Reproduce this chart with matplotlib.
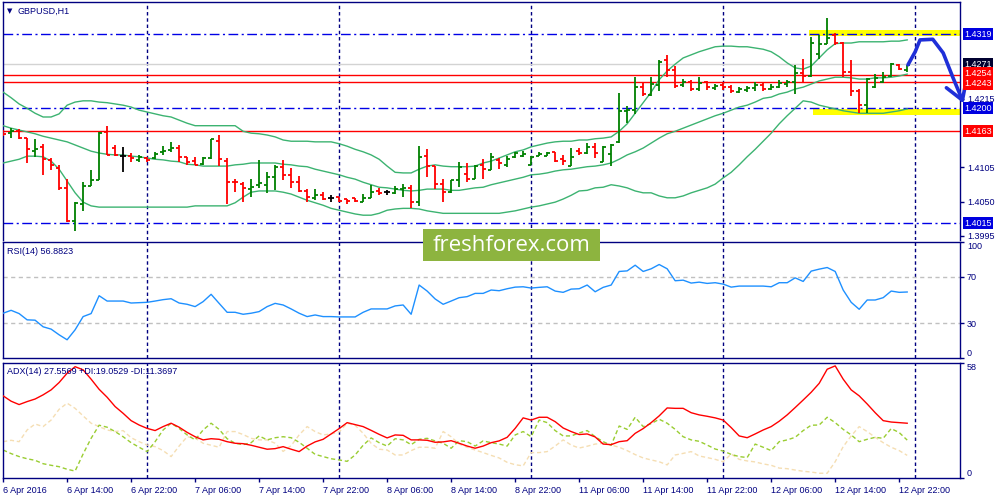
import numpy as np
import matplotlib.pyplot as plt
from matplotlib.patches import Rectangle

plt.rcParams['font.family'] = ['Liberation Sans', 'DejaVu Sans']

# GBPUSD H1, 6 Apr 06:00 .. 12 Apr 23:00 (weekend skipped)
opens = [1.4163, 1.4160, 1.4163, 1.4153, 1.4132, 1.4137, 1.4117, 1.4104, 1.4071, 1.4019,
         1.4046, 1.4075, 1.4085, 1.4162, 1.4136, 1.4124, 1.4124, 1.4117, 1.4120, 1.4120,
         1.4129, 1.4133, 1.4136, 1.4121, 1.4115, 1.4110, 1.4120, 1.4148, 1.4116, 1.4082,
         1.4078, 1.4070, 1.4076, 1.4077, 1.4089, 1.4105, 1.4093, 1.4082, 1.4067, 1.4056,
         1.4060, 1.4055, 1.4058, 1.4054, 1.4055, 1.4049, 1.4056, 1.4067, 1.4065, 1.4064,
         1.4070, 1.4071, 1.4050, 1.4123, 1.4107, 1.4078, 1.4066, 1.4084, 1.4094, 1.4086,
         1.4109, 1.4101, 1.4117, 1.4108, 1.4121, 1.4124, 1.4109, 1.4124, 1.4124, 1.4129,
         1.4118, 1.4107, 1.4132, 1.4128, 1.4137, 1.4114, 1.4127, 1.4145, 1.4195, 1.4198,
         1.4234, 1.4221, 1.4238, 1.4278, 1.4261, 1.4238, 1.4243, 1.4231, 1.4242, 1.4232,
         1.4238, 1.4234, 1.4227, 1.4229, 1.4232, 1.4238, 1.4231, 1.4234, 1.4239, 1.4243,
         1.4257, 1.4252, 1.4288, 1.4304, 1.4318, 1.4305, 1.4259, 1.4228, 1.4205, 1.4235,
         1.4243, 1.4252, 1.4270, 1.4261]
highs = [1.4165, 1.4168, 1.4166, 1.4153, 1.4150, 1.4143, 1.4120, 1.4109, 1.4086, 1.4049,
         1.4081, 1.4101, 1.4162, 1.4172, 1.4141, 1.4137, 1.4128, 1.4125, 1.4122, 1.4130,
         1.4139, 1.4145, 1.4141, 1.4122, 1.4121, 1.4121, 1.4151, 1.4157, 1.4120, 1.4086,
         1.4081, 1.4086, 1.4117, 1.4097, 1.4109, 1.4117, 1.4104, 1.4091, 1.4070, 1.4070,
         1.4065, 1.4060, 1.4058, 1.4054, 1.4056, 1.4062, 1.4076, 1.4071, 1.4069, 1.4075,
         1.4078, 1.4076, 1.4139, 1.4135, 1.4107, 1.4086, 1.4085, 1.4113, 1.4112, 1.4109,
         1.4118, 1.4128, 1.4120, 1.4124, 1.4130, 1.4132, 1.4123, 1.4129, 1.4130, 1.4129,
         1.4125, 1.4136, 1.4136, 1.4144, 1.4144, 1.4139, 1.4143, 1.4225, 1.4203, 1.4250,
         1.4243, 1.4250, 1.4277, 1.4286, 1.4268, 1.4247, 1.4246, 1.4251, 1.4244, 1.4239,
         1.4242, 1.4237, 1.4234, 1.4236, 1.4243, 1.4240, 1.4239, 1.4246, 1.4246, 1.4270,
         1.4279, 1.4314, 1.4318, 1.4346, 1.4321, 1.4306, 1.4277, 1.4231, 1.4248, 1.4255,
         1.4259, 1.4273, 1.4271, 1.4270]
lows = [1.4156, 1.4152, 1.4151, 1.4112, 1.4121, 1.4092, 1.4100, 1.4068, 1.4017, 1.4003,
        1.4034, 1.4075, 1.4084, 1.4125, 1.4124, 1.4098, 1.4114, 1.4114, 1.4114, 1.4119,
        1.4125, 1.4129, 1.4114, 1.4109, 1.4108, 1.4109, 1.4119, 1.4107, 1.4046, 1.4065,
        1.4050, 1.4058, 1.4071, 1.4064, 1.4068, 1.4084, 1.4071, 1.4066, 1.4050, 1.4053,
        1.4052, 1.4049, 1.4050, 1.4046, 1.4050, 1.4049, 1.4055, 1.4060, 1.4061, 1.4062,
        1.4058, 1.4039, 1.4042, 1.4089, 1.4070, 1.4050, 1.4064, 1.4073, 1.4081, 1.4086,
        1.4087, 1.4100, 1.4102, 1.4105, 1.4120, 1.4121, 1.4109, 1.4123, 1.4123, 1.4114,
        1.4108, 1.4107, 1.4125, 1.4127, 1.4120, 1.4113, 1.4107, 1.4144, 1.4176, 1.4191,
        1.4219, 1.4219, 1.4228, 1.4251, 1.4232, 1.4234, 1.4228, 1.4228, 1.4230, 1.4230,
        1.4230, 1.4224, 1.4224, 1.4227, 1.4228, 1.4228, 1.4229, 1.4232, 1.4234, 1.4223,
        1.4240, 1.4250, 1.4279, 1.4304, 1.4302, 1.4250, 1.4219, 1.4192, 1.4192, 1.4232,
        1.4241, 1.4250, 1.4261, 1.4259]
closes = [1.4158, 1.4164, 1.4153, 1.4134, 1.4135, 1.4118, 1.4108, 1.4071, 1.4019, 1.4048,
          1.4075, 1.4085, 1.4161, 1.4125, 1.4125, 1.4124, 1.4120, 1.4121, 1.4117, 1.4127,
          1.4132, 1.4136, 1.4121, 1.4114, 1.4109, 1.4120, 1.4150, 1.4119, 1.4082, 1.4081,
          1.4071, 1.4073, 1.4079, 1.4089, 1.4105, 1.4093, 1.4082, 1.4067, 1.4058, 1.4060,
          1.4054, 1.4055, 1.4051, 1.4051, 1.4051, 1.4056, 1.4066, 1.4064, 1.4065, 1.4070,
          1.4071, 1.4050, 1.4121, 1.4107, 1.4078, 1.4066, 1.4084, 1.4105, 1.4087, 1.4107,
          1.4102, 1.4121, 1.4112, 1.4118, 1.4128, 1.4127, 1.4121, 1.4127, 1.4128, 1.4116,
          1.4116, 1.4121, 1.4128, 1.4137, 1.4128, 1.4137, 1.4141, 1.4195, 1.4198, 1.4234,
          1.4223, 1.4239, 1.4275, 1.4261, 1.4236, 1.4242, 1.4231, 1.4241, 1.4234, 1.4236,
          1.4234, 1.4228, 1.4231, 1.4232, 1.4238, 1.4231, 1.4234, 1.4240, 1.4243, 1.4257,
          1.4252, 1.4305, 1.4304, 1.4313, 1.4305, 1.4259, 1.4228, 1.4205, 1.4247, 1.4248,
          1.4251, 1.4272, 1.4264, 1.4270]

bb_upper = [1.4226, 1.4217, 1.4207, 1.4200, 1.4192, 1.4186, 1.4186, 1.4191, 1.4205, 1.4210,
            1.4212, 1.4212, 1.4210, 1.4209, 1.4207, 1.4205, 1.4202, 1.4197, 1.4194, 1.4191,
            1.4188, 1.4186, 1.4181, 1.4176, 1.4172, 1.4172, 1.4172, 1.4172, 1.4172, 1.4172,
            1.4163, 1.4160, 1.4159, 1.4157, 1.4154, 1.4149, 1.4147, 1.4147, 1.4147, 1.4146,
            1.4146, 1.4146, 1.4143, 1.4139, 1.4134, 1.4130, 1.4125, 1.4118, 1.4107, 1.4097,
            1.4096, 1.4096, 1.4102, 1.4107, 1.4109, 1.4107, 1.4106, 1.4106, 1.4106, 1.4107,
            1.4112, 1.4115, 1.4120, 1.4125, 1.4130, 1.4133, 1.4138, 1.4141, 1.4144, 1.4146,
            1.4147, 1.4147, 1.4149, 1.4149, 1.4151, 1.4152, 1.4154, 1.4163, 1.4175, 1.4192,
            1.4209, 1.4226, 1.4246, 1.4260, 1.4271, 1.4281, 1.4286, 1.4291, 1.4295, 1.4299,
            1.4300, 1.4300, 1.4299, 1.4299, 1.4297, 1.4295, 1.4291, 1.4283, 1.4273, 1.4265,
            1.4263, 1.4268, 1.4281, 1.4294, 1.4304, 1.4305, 1.4305, 1.4307, 1.4307, 1.4307,
            1.4307, 1.4308, 1.4308, 1.4310]
bb_mid = [1.4172, 1.4168, 1.4165, 1.4162, 1.4159, 1.4155, 1.4152, 1.4149, 1.4146, 1.4141,
          1.4136, 1.4131, 1.4128, 1.4126, 1.4125, 1.4125, 1.4123, 1.4122, 1.4120, 1.4118,
          1.4117, 1.4115, 1.4114, 1.4110, 1.4109, 1.4107, 1.4107, 1.4107, 1.4107, 1.4109,
          1.4110, 1.4112, 1.4112, 1.4112, 1.4112, 1.4110, 1.4109, 1.4107, 1.4106, 1.4102,
          1.4099, 1.4096, 1.4093, 1.4089, 1.4086, 1.4081, 1.4077, 1.4073, 1.4072, 1.4070,
          1.4068, 1.4067, 1.4068, 1.4070, 1.4070, 1.4070, 1.4068, 1.4068, 1.4070, 1.4072,
          1.4073, 1.4077, 1.4080, 1.4083, 1.4086, 1.4089, 1.4093, 1.4094, 1.4096, 1.4099,
          1.4101, 1.4102, 1.4104, 1.4106, 1.4107, 1.4109, 1.4112, 1.4118, 1.4125, 1.4130,
          1.4136, 1.4144, 1.4152, 1.4159, 1.4163, 1.4168, 1.4173, 1.4178, 1.4183, 1.4188,
          1.4192, 1.4197, 1.4202, 1.4205, 1.4210, 1.4216, 1.4218, 1.4223, 1.4226, 1.4231,
          1.4234, 1.4239, 1.4244, 1.4247, 1.4250, 1.4250, 1.4249, 1.4247, 1.4247, 1.4249,
          1.4249, 1.4250, 1.4252, 1.4255]
bb_lower = [1.4112, 1.4115, 1.4118, 1.4123, 1.4123, 1.4122, 1.4115, 1.4102, 1.4083, 1.4064,
            1.4049, 1.4043, 1.4041, 1.4041, 1.4041, 1.4041, 1.4041, 1.4041, 1.4041, 1.4041,
            1.4041, 1.4041, 1.4041, 1.4041, 1.4043, 1.4043, 1.4043, 1.4043, 1.4043, 1.4048,
            1.4057, 1.4065, 1.4067, 1.4067, 1.4067, 1.4065, 1.4062, 1.4057, 1.4052, 1.4048,
            1.4044, 1.4039, 1.4036, 1.4033, 1.4030, 1.4028, 1.4028, 1.4031, 1.4036, 1.4038,
            1.4039, 1.4039, 1.4038, 1.4035, 1.4033, 1.4031, 1.4031, 1.4031, 1.4031, 1.4031,
            1.4031, 1.4031, 1.4031, 1.4033, 1.4035, 1.4038, 1.4041, 1.4043, 1.4046, 1.4049,
            1.4054, 1.4060, 1.4067, 1.4068, 1.4072, 1.4073, 1.4077, 1.4075, 1.4072, 1.4067,
            1.4064, 1.4064, 1.4059, 1.4056, 1.4056, 1.4059, 1.4064, 1.4068, 1.4072, 1.4078,
            1.4088, 1.4097, 1.4109, 1.4122, 1.4134, 1.4147, 1.4160, 1.4175, 1.4188, 1.4200,
            1.4212, 1.4210, 1.4205, 1.4202, 1.4199, 1.4196, 1.4194, 1.4192, 1.4192, 1.4192,
            1.4192, 1.4194, 1.4196, 1.4199]

rsi = [38.6, 41.1, 38.3, 32.9, 32.6, 26.9, 24.9, 20.0, 15.7, 24.3,
       35.7, 38.3, 53.7, 49.1, 49.1, 49.1, 47.4, 47.7, 48.0, 49.1,
       50.3, 51.1, 47.4, 46.3, 44.3, 48.6, 54.9, 47.1, 39.4, 39.4,
       37.7, 38.6, 40.0, 44.3, 47.1, 45.7, 42.3, 38.6, 35.7, 37.1,
       35.7, 35.7, 35.4, 35.4, 35.4, 39.4, 42.3, 42.3, 42.3, 44.9,
       45.7, 37.7, 62.9, 57.7, 50.9, 46.3, 49.1, 52.0, 52.9, 55.7,
       55.7, 58.6, 58.0, 59.7, 61.1, 61.4, 60.3, 60.9, 61.4, 57.7,
       56.6, 59.4, 59.7, 62.9, 57.1, 60.9, 62.9, 74.6, 75.1, 80.0,
       74.6, 76.9, 80.6, 76.9, 66.6, 67.1, 64.6, 65.4, 64.3, 64.9,
       63.7, 61.1, 62.0, 62.0, 62.0, 62.0, 61.4, 64.9, 64.9, 69.1,
       66.0, 74.9, 76.6, 78.0, 74.6, 58.6, 48.0, 42.0, 50.0, 50.0,
       52.0, 57.7, 56.6, 56.9]

adx = [41.4, 38.7, 37.0, 38.5, 39.8, 41.9, 44.4, 48.1, 52.8, 56.1,
       54.5, 49.8, 44.7, 40.7, 36.0, 32.6, 28.9, 26.7, 25.0, 23.9,
       25.9, 27.6, 25.6, 23.0, 20.8, 19.2, 19.8, 19.5, 18.3, 17.5,
       17.3, 16.5, 15.5, 14.5, 14.8, 15.8, 14.5, 13.3, 16.1, 18.2,
       19.5, 22.2, 24.9, 27.9, 26.9, 25.9, 24.0, 22.0, 20.2, 21.7,
       21.5, 19.2, 19.2, 19.0, 18.0, 18.2, 18.8, 17.5, 16.1, 15.0,
       16.1, 17.8, 18.7, 20.5, 25.0, 30.3, 29.2, 30.6, 30.6, 28.4,
       25.2, 23.4, 21.9, 22.2, 20.7, 17.1, 16.8, 18.3, 18.8, 22.5,
       24.9, 27.9, 31.3, 35.3, 35.1, 35.1, 32.9, 31.8, 31.1, 30.3,
       29.2, 25.4, 21.2, 20.3, 22.2, 24.2, 25.9, 28.6, 31.8, 35.5,
       39.3, 43.2, 47.7, 54.8, 56.5, 49.8, 44.4, 41.4, 37.3, 32.9,
       28.9, 28.2, 27.9, 27.6]
plus_di = [14.1, 12.3, 10.8, 9.7, 8.9, 7.2, 6.4, 5.7, 4.4, 3.5,
           12.1, 20.0, 26.6, 25.6, 23.4, 20.8, 17.8, 15.5, 13.3, 18.3,
           24.2, 27.6, 25.0, 21.7, 19.2, 24.2, 27.6, 24.5, 19.8, 17.5,
           16.8, 17.8, 21.2, 19.2, 20.3, 20.8, 20.3, 18.0, 15.0, 11.9,
           10.8, 9.7, 9.1, 8.4, 11.6, 16.5, 20.2, 17.8, 16.1, 19.8,
           19.2, 16.8, 19.5, 20.0, 18.7, 17.5, 15.0, 18.8, 18.3, 16.1,
           18.7, 17.8, 17.1, 16.1, 21.7, 23.4, 20.8, 29.2, 27.9, 23.9,
           21.2, 21.2, 22.7, 23.9, 20.8, 18.3, 16.5, 26.2, 24.5, 30.6,
           25.9, 27.4, 29.6, 27.6, 24.5, 20.8, 19.2, 18.5, 16.6, 14.6,
           13.6, 11.9, 10.8, 10.3, 17.1, 15.5, 13.8, 18.3, 19.2, 20.5,
           23.9, 26.6, 26.7, 30.6, 27.9, 24.5, 21.7, 18.3, 19.5, 20.5,
           20.0, 24.9, 22.9, 19.1]
minus_di = [18.3, 19.0, 18.3, 24.2, 27.2, 25.9, 29.2, 34.6, 37.7, 35.1,
            31.3, 27.6, 25.9, 24.2, 23.4, 23.9, 20.3, 18.3, 16.6, 15.8,
            13.8, 10.8, 16.1, 20.8, 20.2, 17.5, 16.5, 15.5, 23.4, 23.4,
            21.9, 20.0, 19.2, 19.2, 17.5, 13.4, 16.3, 21.7, 25.9, 23.4,
            21.7, 22.2, 23.2, 27.6, 26.6, 22.5, 17.5, 14.5, 14.1, 11.6,
            11.6, 13.8, 15.5, 15.5, 15.0, 23.4, 20.8, 17.1, 15.5, 14.1,
            12.8, 11.4, 10.1, 7.9, 6.7, 6.1, 12.8, 12.8, 13.3, 16.1,
            19.2, 16.6, 15.1, 16.0, 17.1, 17.5, 16.6, 15.5, 13.8, 11.8,
            10.1, 9.1, 8.2, 6.6, 11.6, 12.4, 13.3, 11.1, 10.3, 9.4,
            8.2, 12.1, 9.4, 8.6, 8.1, 7.1, 6.4, 5.0, 4.7, 4.0,
            3.4, 3.0, 2.4, 2.4, 8.2, 15.8, 21.2, 25.9, 23.4, 20.5,
            17.8, 15.5, 13.8, 11.4]

xlabels = ['6 Apr 2016', '6 Apr 14:00', '6 Apr 22:00', '7 Apr 06:00', '7 Apr 14:00',
           '7 Apr 22:00', '8 Apr 06:00', '8 Apr 14:00', '8 Apr 22:00', '11 Apr 06:00',
           '11 Apr 14:00', '11 Apr 22:00', '12 Apr 06:00', '12 Apr 14:00', '12 Apr 22:00']
day_breaks = [18, 42, 66, 90, 114]

blue_levels = [1.4319, 1.4200, 1.4015]
red_levels = [1.4254, 1.4243, 1.4163]
bid = 1.4271
price_ticks = [1.4215, 1.4105, 1.4050, 1.3995]

# hand drawn forecast (bar index, price)
arrow_x = [113.1, 114.0, 114.6, 116.2, 117.5, 118.7, 119.9]
arrow_p = [1.4270, 1.4291, 1.4310, 1.4311, 1.4289, 1.4250, 1.4213]
head_x = [117.9, 119.9, 120.4]
head_p = [1.4233, 1.4213, 1.4246]

navy = '#000080'
n = len(closes)
idx = np.arange(n)
xmax = 119.6

fig = plt.figure(figsize=(10, 5), dpi=100)
ax1 = fig.add_axes([0.0027, 0.52, 0.9573, 0.476])
ax2 = fig.add_axes([0.0027, 0.284, 0.9573, 0.232])
ax3 = fig.add_axes([0.0027, 0.044, 0.9573, 0.231])

for ax in (ax1, ax2, ax3):
    ax.set_xlim(-0.05, xmax)
    for s in ax.spines.values():
        s.set_color(navy)
        s.set_linewidth(1)
    ax.yaxis.tick_right()
    ax.tick_params(axis='y', direction='out', length=3, width=1, colors=navy,
                   labelsize=6.5, pad=2)
    ax.tick_params(axis='x', bottom=False, labelbottom=False)
    for d in day_breaks:
        ax.axvline(d, color=navy, lw=1, ls=(0, (2.5, 2)), zorder=1)
ax1.spines['bottom'].set_visible(False)

# --- price panel
ax1.set_ylim(1.39881, 1.43710)
ax1.add_patch(Rectangle((100.75, 1.43163), 19.25, 0.00097, color='#FFFF00', lw=0, zorder=1.5))
ax1.add_patch(Rectangle((101.25, 1.41900), 18.3, 0.00089, color='#FFFF00', lw=0, zorder=1.5))
for lv in blue_levels:
    ax1.axhline(lv, color='#0000E6', lw=1, ls=(0, (7, 2.5, 1.5, 2.5)), zorder=2)
ax1.axhline(bid, color='#D3D3D3', lw=1, zorder=2)
for lv in red_levels:
    ax1.axhline(lv, color='#FF0000', lw=1, zorder=2)

for band in (bb_upper, bb_mid, bb_lower):
    ax1.plot(idx, band, color='#3CB371', lw=1, zorder=3)

o = np.array(opens)
c = np.array(closes)
cols = np.where(c > o, '#008000', np.where(c < o, '#FF0000', '#000000'))
ax1.vlines(idx, lows, highs, colors=cols, lw=1.3, zorder=4)
ax1.hlines(o, idx - 0.4, idx, colors=cols, lw=1.3, zorder=4)
ax1.hlines(c, idx, idx + 0.4, colors=cols, lw=1.3, zorder=4)

ax1.plot(arrow_x, arrow_p, color='#1F2FD8', lw=2.6, clip_on=False, zorder=6,
         solid_capstyle='round', solid_joinstyle='round')
ax1.plot(head_x, head_p, color='#1F2FD8', lw=2.6, clip_on=False, zorder=6,
         solid_capstyle='round', solid_joinstyle='round')

ax1.set_yticks(price_ticks)
ax1.set_yticklabels([f'{v:.4f}' for v in price_ticks])

# price tags on the right; the two close red tags are nudged apart a little
boxes = [(lv, '#0000E0', 0) for lv in blue_levels] + [(bid, '#000030', 0)] + \
        [(1.4254, '#FF0000', 1.2), (1.4243, '#FF0000', -1.6), (1.4163, '#FF0000', 0)]
for lv, bg, dy in boxes:
    ax1.annotate(f'{lv:.4f}', xy=(1.0045, lv), xycoords=ax1.get_yaxis_transform(),
                 xytext=(0, dy), textcoords='offset points', color='white',
                 fontsize=6.5, ha='left', va='center', annotation_clip=False, zorder=7,
                 bbox=dict(boxstyle='square,pad=0.15', fc=bg, ec='none'))

fig.text(0.0065, 0.978, '\u25bc', fontsize=5, color=navy, family='DejaVu Sans', va='center')
fig.text(0.018, 0.978, 'GBPUSD,H1', fontsize=6.5, color=navy, va='center')

# --- RSI
ax2.set_ylim(0, 100)
for lv in (70, 30):
    ax2.axhline(lv, color='#C0C0C0', lw=1, ls=(0, (3, 2.5)), zorder=1)
ax2.plot(idx, rsi, color='#1E90FF', lw=1, zorder=3)
ax2.set_yticks([0, 30, 70, 100])
ax2.set_yticklabels(['0', '30', '70', '100'])
tl = ax2.get_yticklabels()
tl[0].set_va('bottom')
tl[3].set_va('top')
fig.text(0.007, 0.498, 'RSI(14) 56.8823', fontsize=6.5, color=navy, va='center')

# --- ADX
ax3.set_ylim(0, 58.2)
ax3.plot(idx, minus_di, color='#F5DEB3', lw=1, ls=(0, (3, 2)), zorder=2)
ax3.plot(idx, plus_di, color='#9ACD32', lw=1, ls=(0, (3, 2)), zorder=2)
ax3.plot(idx, adx, color='#FF0000', lw=1, zorder=3)
ax3.set_yticks([0, 58])
ax3.set_yticklabels(['0', '58'])
tl = ax3.get_yticklabels()
tl[0].set_va('bottom')
tl[1].set_va('top')
fig.text(0.007, 0.258, 'ADX(14) 27.5569 +DI:19.0529 -DI:11.3697', fontsize=6.5,
         color=navy, va='center')

ax3.tick_params(axis='x', bottom=True, labelbottom=True, direction='out', length=3,
                width=1, colors=navy, labelsize=6.5, pad=3)
ax3.set_xticks(idx[::8])
ax3.set_xticklabels(xlabels, ha='left')

# watermark
fig.add_artist(Rectangle((0.423, 0.478), 0.177, 0.064, transform=fig.transFigure,
                         color='#8DB43F', lw=0, zorder=10))
fig.text(0.5115, 0.509, 'freshforex.com', color='white', fontsize=16, ha='center',
         va='center', family=['Open Sans', 'DejaVu Sans'], zorder=11)

fig.savefig('out.png', dpi=100)
